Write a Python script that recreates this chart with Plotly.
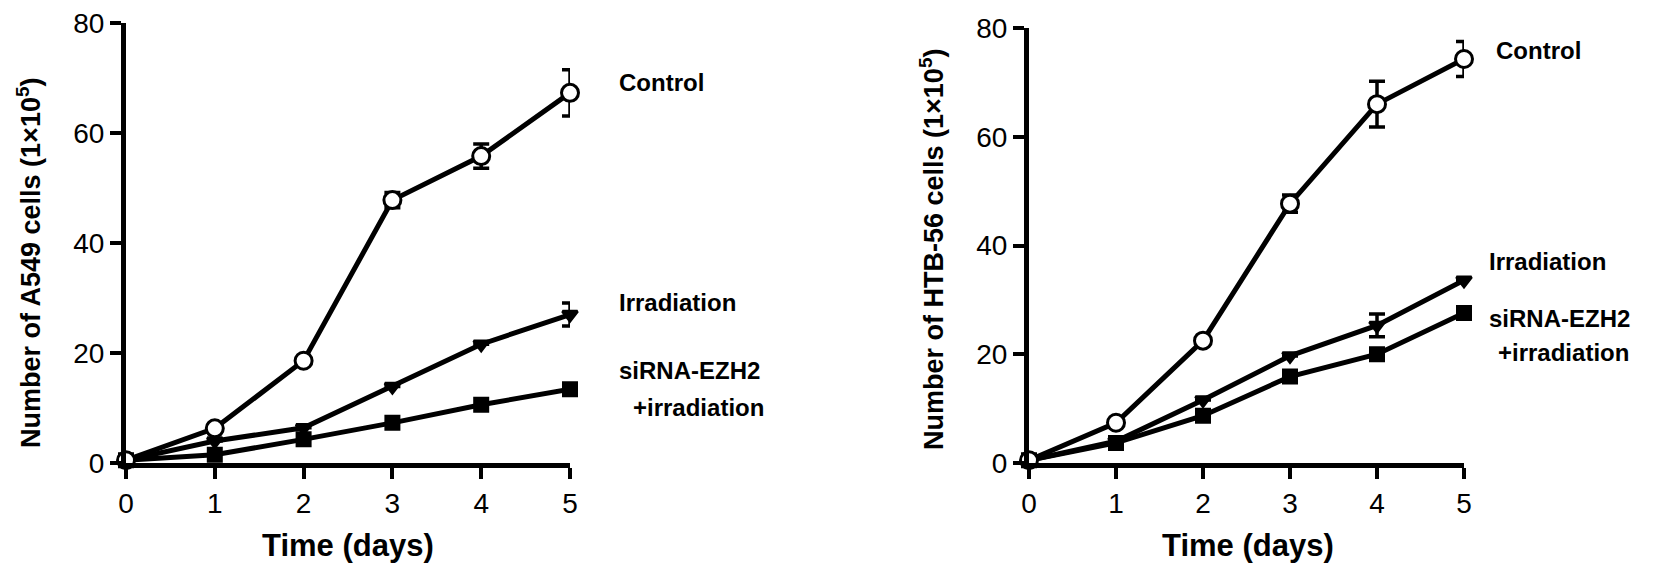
import plotly.graph_objects as go

days = [0, 1, 2, 3, 4, 5]

# Left panel: A549
a549_control = [0.5, 6.3, 18.6, 47.8, 55.8, 67.3]
a549_control_err = [0, 0, 0, 1.4, 2.2, 4.2]
a549_irr = [0.5, 4.0, 6.4, 13.9, 21.6, 27.0]
a549_irr_err = [0, 0, 0, 0, 0, 2.1]
a549_sirna = [0.5, 1.5, 4.3, 7.3, 10.6, 13.4]

# Right panel: HTB-56
htb_control = [0.5, 7.4, 22.5, 47.7, 66.0, 74.3]
htb_control_err = [0, 0, 0, 1.6, 4.2, 3.2]
htb_irr = [0.5, 4.0, 11.6, 19.7, 25.3, 33.6]
htb_irr_err = [0, 0, 0, 0, 2.1, 0]
htb_sirna = [0.5, 3.7, 8.7, 15.9, 20.0, 27.6]

x_ticks = [0, 1, 2, 3, 4, 5]
y_ticks = [0, 20, 40, 60, 80]

FONT = "Liberation Sans, Arial, sans-serif"
BLACK = "black"

fig = go.Figure()

def add_series(xa, ya, y, err, symbol, size, filled):
    fig.add_trace(go.Scatter(
        x=days, y=y, xaxis=xa, yaxis=ya, mode="lines+markers",
        line=dict(color=BLACK, width=5),
        marker=dict(symbol=symbol, size=size,
                    color=BLACK if filled else "white",
                    line=dict(color=BLACK, width=3)),
        error_y=None if err is None else dict(type="data", array=err, visible=True,
                                               color=BLACK, thickness=3.5, width=8),
        cliponaxis=False, showlegend=False, hoverinfo="x+y"))

add_series("x", "y", a549_sirna, None, "square", 13, True)
add_series("x", "y", a549_irr, a549_irr_err, "triangle-down", 13, True)
add_series("x", "y", a549_control, a549_control_err, "circle", 17, False)

add_series("x2", "y2", htb_sirna, None, "square", 13, True)
add_series("x2", "y2", htb_irr, htb_irr_err, "triangle-down", 13, True)
add_series("x2", "y2", htb_control, htb_control_err, "circle", 17, False)

# page has a body margin; figure is sized to fill the rest of the window
W, H = 1677, 574
OFFX, OFFY = 6, 8
FW, FH = W - 8, H - 8

def px(x):
    return (x - OFFX) / FW

def py(y):
    return (H - y) / FH

axis_common = dict(showline=True, linecolor=BLACK, linewidth=5, ticks="outside",
                   ticklen=11, tickwidth=4, tickcolor=BLACK, showgrid=False,
                   zeroline=False, automargin=False, ticklabeloverflow="allow",
                   tickfont=dict(family=FONT, size=28, color=BLACK))

fig.update_layout(
    width=FW, height=FH, margin=dict(l=0, r=0, t=0, b=0, pad=0, autoexpand=False),
    paper_bgcolor="white", plot_bgcolor="white",
    xaxis=dict(domain=[px(124), px(568)], range=[0, 5], tickvals=x_ticks,
               anchor="y", **axis_common),
    yaxis=dict(domain=[py(463), py(23)], range=[0, 80], tickvals=y_ticks,
               anchor="x", **axis_common),
    xaxis2=dict(domain=[px(1027), px(1462)], range=[0, 5], tickvals=x_ticks,
                anchor="y2", **axis_common),
    yaxis2=dict(domain=[py(463), py(28)], range=[0, 80], tickvals=y_ticks,
                anchor="x2", **axis_common),
)

def label(x, y, text, size=24, xanchor="left"):
    fig.add_annotation(x=px(x), y=py(y), xref="paper", yref="paper", text=text,
                       showarrow=False, xanchor=xanchor, yanchor="middle",
                       font=dict(family=FONT, size=size, color=BLACK))

# series labels, left
label(615, 82, "<b>Control</b>")
label(615, 302, "<b>Irradiation</b>")
label(615, 370, "<b>siRNA-EZH2</b>")
label(629, 407, "<b>+irradiation</b>")
# series labels, right
label(1492, 51, "<b>Control</b>")
label(1485, 262, "<b>Irradiation</b>")
label(1485, 318, "<b>siRNA-EZH2</b>")
label(1494, 352, "<b>+irradiation</b>")

# axis titles
label(346, 545, "<b>Time (days)</b>", size=31, xanchor="center")
label(1246, 545, "<b>Time (days)</b>", size=31, xanchor="center")

fig.add_annotation(x=px(27), y=py(263), xref="paper", yref="paper",
                   text="<b>Number of A549 cells (1×10<sup>5</sup>)</b>", textangle=-90,
                   showarrow=False, xanchor="center", yanchor="middle",
                   font=dict(family=FONT, size=27, color=BLACK))
fig.add_annotation(x=px(930), y=py(250), xref="paper", yref="paper",
                   text="<b>Number of HTB-56 cells (1×10<sup>5</sup>)</b>", textangle=-90,
                   showarrow=False, xanchor="center", yanchor="middle",
                   font=dict(family=FONT, size=27, color=BLACK))

fig.write_html("out.html")
